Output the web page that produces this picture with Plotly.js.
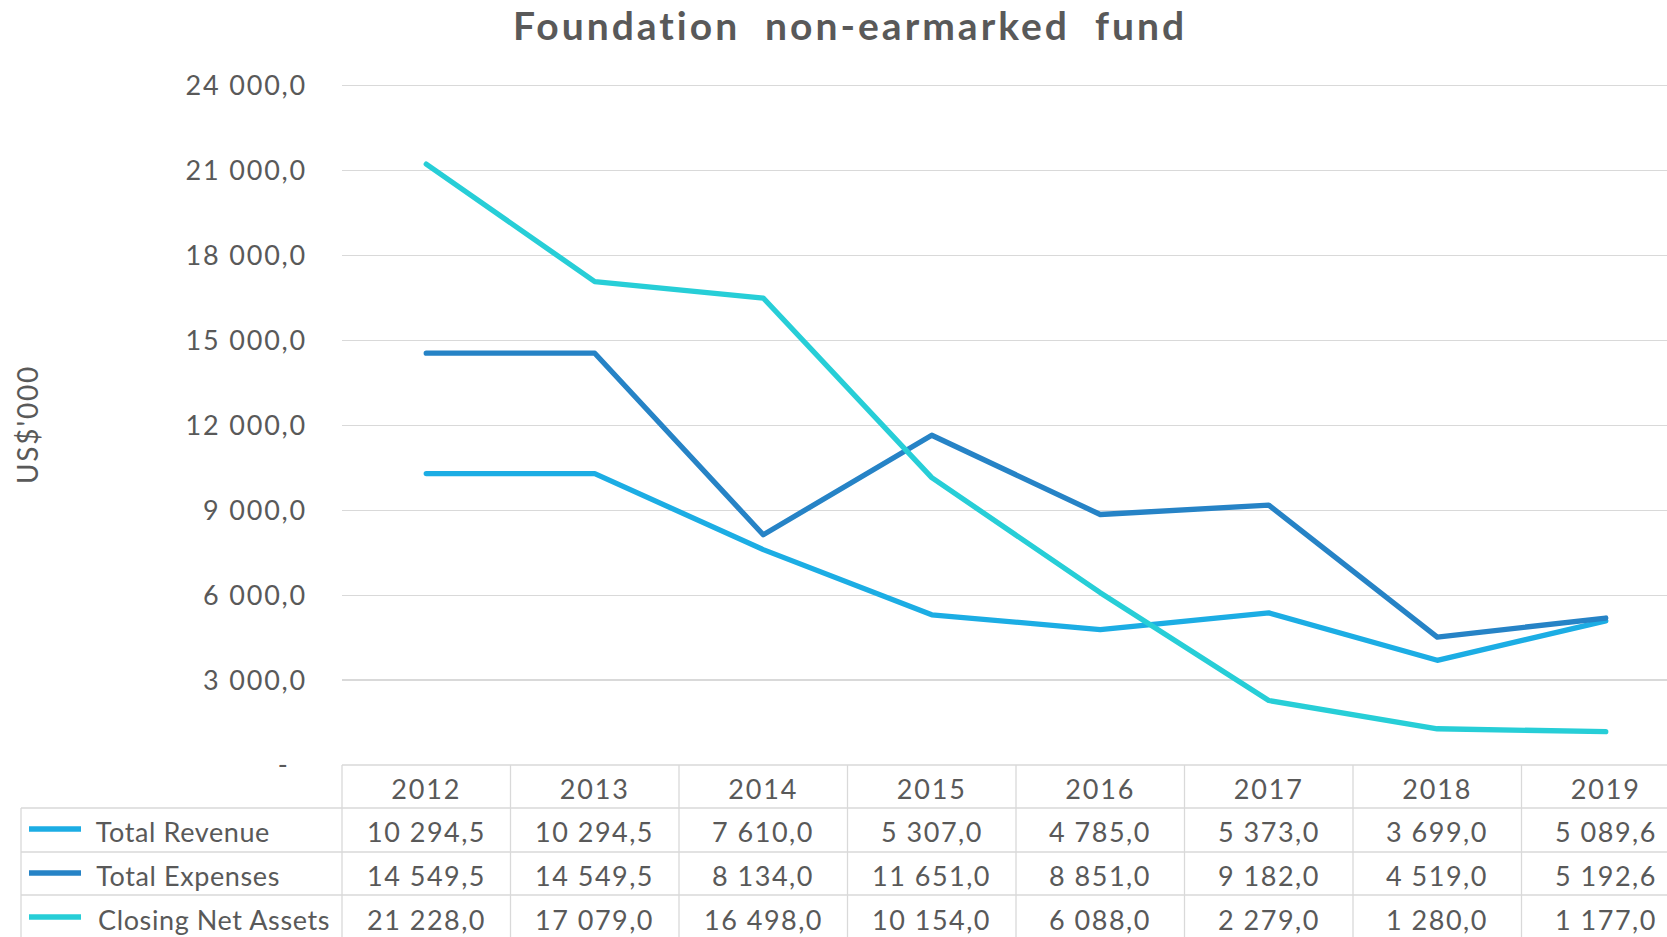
<!DOCTYPE html>
<html>
<head>
<meta charset="utf-8">
<script src="https://cdn.plot.ly/plotly-3.0.1.min.js"></script>
<style>
  html, body { margin: 0; padding: 0; overflow: hidden; background: #fff; }
  #chart { width: 1700px; height: 937px; }
  .scatterlayer .js-line { stroke-linecap: round; stroke-linejoin: round; }
  .gtitle { letter-spacing: 3px; }
  .ytick text, .xtick text, .ytitle { letter-spacing: 1.8px; }
  .annotation-text { letter-spacing: 1.5px; }
  .annotation[data-index="0"] .annotation-text,
  .annotation[data-index="1"] .annotation-text,
  .annotation[data-index="2"] .annotation-text { letter-spacing: 0.6px; }
</style>
</head>
<body>
<div id="chart"></div>
<script>
// ---- data ----
const years = ['2012', '2013', '2014', '2015', '2016', '2017', '2018', '2019'];
const totalRevenue = [10294.5, 10294.5, 7610.0, 5307.0, 4785.0, 5373.0, 3699.0, 5089.6];
const totalExpenses = [14549.5, 14549.5, 8134.0, 11651.0, 8851.0, 9182.0, 4519.0, 5192.6];
const closingNetAssets = [21228.0, 17079.0, 16498.0, 10154.0, 6088.0, 2279.0, 1280.0, 1177.0];
const seriesNames = ['Total Revenue', 'Total Expenses', 'Closing Net Assets'];
const yTickValues = [0, 3000, 6000, 9000, 12000, 15000, 18000, 21000, 24000];

// ---- styling ----
const colors = ['#1CADE4', '#2683C6', '#27CED7'];
const textColor = '#595959';
const gridColor = '#D9D9D9';
const fontFamily = 'Lato, "Open Sans", sans-serif';
const fontSize = 27;

function fmt(v) {
  const parts = v.toFixed(1).split('.');
  const intPart = parts[0].replace(/\B(?=(\d{3})+(?!\d))/g, ' ');
  return intPart + ',' + parts[1];
}
function yLabel(v) { return v === 0 ? '-\u2007' : fmt(v); }

const allSeries = [totalRevenue, totalExpenses, closingNetAssets];

const traces = allSeries.map((vals, i) => ({
  type: 'scatter',
  mode: 'lines',
  name: seriesNames[i],
  x: years,
  y: vals,
  line: { color: colors[i], width: 5.3 },
  hoverinfo: 'skip'
}));

// ---- geometry (pixels) ----
const W = 1700, H = 937;
const mL = 342, mR = 10, mT = 84, mB = 172;
const plotW = W - mL - mR, plotH = H - mT - mB;
const px2x = (px) => (px - mL) / plotW;
const py2y = (py) => (H - mB - py) / plotH;

const tableTop = H - mB;            // 765
const rowLines = [808, 852, 895, 939];
const rowCenters = [831, 875, 919];
const tableLeft = 21;

const shapes = [];
const lineStyle = { color: gridColor, width: 1.3 };
// header top
shapes.push({ type: 'line', xref: 'paper', yref: 'paper', x0: 0, x1: 1.02, y0: py2y(tableTop), y1: py2y(tableTop), line: lineStyle });
// row lines
rowLines.forEach(py => shapes.push({ type: 'line', xref: 'paper', yref: 'paper', x0: px2x(tableLeft), x1: 1.02, y0: py2y(py), y1: py2y(py), line: lineStyle }));
// column lines
for (let k = 0; k <= years.length; k++) {
  shapes.push({ type: 'line', xref: 'paper', yref: 'paper', x0: k / years.length, x1: k / years.length, y0: py2y(tableTop), y1: py2y(rowLines[rowLines.length - 1]), line: lineStyle });
}
shapes.push({ type: 'line', xref: 'paper', yref: 'paper', x0: px2x(tableLeft), x1: px2x(tableLeft), y0: py2y(rowLines[0]), y1: py2y(rowLines[rowLines.length - 1]), line: lineStyle });
// legend keys
seriesNames.forEach((n, i) => shapes.push({ type: 'line', xref: 'paper', yref: 'paper', x0: px2x(29), x1: px2x(81), y0: py2y(rowCenters[i] - 2), y1: py2y(rowCenters[i] - 2), line: { color: colors[i], width: 5.5 } }));

const annotations = [];
// row labels first (indices 0..2)
seriesNames.forEach((n, i) => {
  annotations.push({ xref: 'paper', yref: 'paper', x: px2x(88), y: py2y(rowCenters[i]), xanchor: 'left', yanchor: 'middle', text: n, showarrow: false, font: { family: fontFamily, size: fontSize, color: textColor } });
});
// table values, positioned on the category axis by index
allSeries.forEach((vals, i) => {
  vals.forEach((v, j) => {
    annotations.push({ xref: 'x', yref: 'paper', x: j, y: py2y(rowCenters[i]), xanchor: 'center', yanchor: 'middle', text: fmt(v), showarrow: false, font: { family: fontFamily, size: fontSize, color: textColor } });
  });
});

const layout = {
  width: W, height: H,
  margin: { l: mL, r: mR, t: mT, b: mB },
  paper_bgcolor: '#ffffff', plot_bgcolor: '#ffffff',
  showlegend: false,
  hovermode: false,
  title: {
    text: 'Foundation\u00A0 non-earmarked\u00A0 fund',
    font: { family: fontFamily, size: 39, weight: 'bold', color: textColor },
    x: 0.5, xref: 'container', xanchor: 'center',
    y: 1 - 26 / H, yref: 'container', yanchor: 'middle'
  },
  xaxis: {
    type: 'category', range: [-0.5, years.length - 0.5],
    showgrid: false, zeroline: false, showline: false, ticks: '',
    tickfont: { family: fontFamily, size: fontSize, color: textColor },
    ticklabelstandoff: 6, fixedrange: true
  },
  yaxis: {
    range: [0, 24060], tickmode: 'array', tickvals: yTickValues, ticktext: yTickValues.map(yLabel),
    showgrid: true, gridcolor: gridColor, gridwidth: 1.3, zeroline: false, showline: false, ticks: '',
    tickfont: { family: fontFamily, size: fontSize, color: textColor },
    ticklabelstandoff: 34, fixedrange: true,
    title: { text: "US$'000", font: { family: fontFamily, size: 28, color: textColor }, standoff: 138 }
  },
  shapes: shapes,
  annotations: annotations
};

Plotly.newPlot('chart', traces, layout, { displayModeBar: false, staticPlot: true });
</script>
</body>
</html>
